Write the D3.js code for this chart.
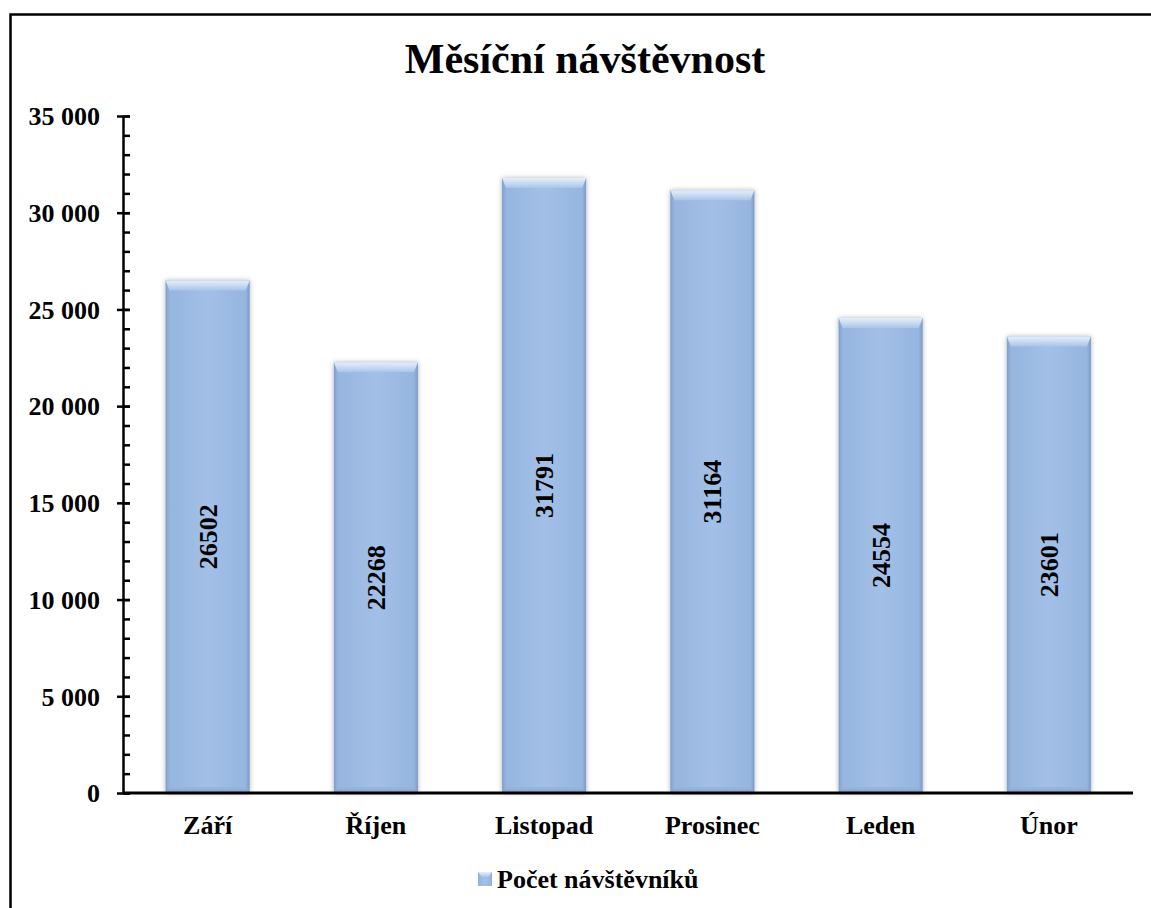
<!DOCTYPE html>
<html>
<head>
<meta charset="utf-8">
<script src="https://cdn.jsdelivr.net/npm/d3@7"></script>
<style>
  html, body { margin: 0; padding: 0; background: #fff; }
  svg { display: block; }
  text { font-family: "Liberation Serif", "Times New Roman", serif; font-weight: bold; fill: #000; }
</style>
</head>
<body>
<svg id="chart" width="1151" height="908"></svg>
<script>
// Monthly visitor counts
const months = ["Září", "Říjen", "Listopad", "Prosinec", "Leden", "Únor"];
const visitors = [26502, 22268, 31791, 31164, 24554, 23601];
const yTickValues = [0, 5000, 10000, 15000, 20000, 25000, 30000, 35000];
const yTickLabels = ["0", "5 000", "10 000", "15 000", "20 000", "25 000", "30 000", "35 000"];
const seriesName = "Počet návštěvníků";
const chartTitle = "Měsíční návštěvnost";

const svg = d3.select("#chart");
const W = 1151, H = 908;
const plot = { left: 123.5, right: 1133, top: 116, bottom: 793 };

const defs = svg.append("defs");

// horizontal shading across each bar
const body = defs.append("linearGradient").attr("id", "barBody").attr("x1", 0).attr("x2", 1).attr("y1", 0).attr("y2", 0);
[[0, "#7f9fcc"], [0.05, "#96b5df"], [0.5, "#a2c0e7"], [0.95, "#96b5df"], [1, "#7b9bc8"]]
  .forEach(([o, c]) => body.append("stop").attr("offset", o).attr("stop-color", c));

// bright bevel along the top edge
const bevelTop = defs.append("linearGradient").attr("id", "bevelTop").attr("x1", 0).attr("x2", 0).attr("y1", 0).attr("y2", 1);
[[0, "#e4eefa"], [0.5, "#c9dbf2"], [1, "#a9c4e8"]]
  .forEach(([o, c]) => bevelTop.append("stop").attr("offset", o).attr("stop-color", c));

const bevelBottom = defs.append("linearGradient").attr("id", "bevelBottom").attr("x1", 0).attr("x2", 0).attr("y1", 0).attr("y2", 1);
[[0, "#98b5dc"], [1, "#7e9dc8"]]
  .forEach(([o, c]) => bevelBottom.append("stop").attr("offset", o).attr("stop-color", c));

const shadow = defs.append("filter").attr("id", "glow").attr("x", "-20%").attr("y", "-5%").attr("width", "140%").attr("height", "110%");
shadow.append("feDropShadow").attr("dx", 0).attr("dy", 0).attr("stdDeviation", 2.5)
  .attr("flood-color", "#000").attr("flood-opacity", 0.3);

// outer frame (open on the right and bottom)
svg.append("path")
  .attr("d", `M10.5,${H} L10.5,14.5 L${W + 5},14.5`)
  .attr("fill", "none").attr("stroke", "#000").attr("stroke-width", 2.5);

// title
svg.append("text")
  .attr("x", 585).attr("y", 73)
  .attr("text-anchor", "middle")
  .style("font-size", "42px")
  .text(chartTitle);

const x = d3.scaleBand().domain(months).range([plot.left, plot.right]).paddingInner(0.5).paddingOuter(0.25);
const y = d3.scaleLinear().domain([0, 35000]).range([plot.bottom, plot.top]);

// bars
const bw = x.bandwidth();
const bevel = 10, side = 4;
const bars = svg.append("g").selectAll("g").data(months).join("g")
  .attr("transform", d => `translate(${x(d)},0)`);

bars.each(function (d, i) {
  const g = d3.select(this);
  const top = y(visitors[i]);
  const bottom = y(0);
  g.append("rect").attr("x", 0).attr("y", top).attr("width", bw).attr("height", bottom - top)
    .attr("fill", "url(#barBody)").attr("filter", "url(#glow)");
  g.append("path")
    .attr("d", `M0,${top} L${bw},${top} L${bw - side},${top + bevel} L${side},${top + bevel} Z`)
    .attr("fill", "url(#bevelTop)");
  g.append("path")
    .attr("d", `M0,${bottom} L${bw},${bottom} L${bw - side},${bottom - 6} L${side},${bottom - 6} Z`)
    .attr("fill", "url(#bevelBottom)").attr("opacity", 0.7);
});

// value labels, rotated inside each bar
svg.append("g").selectAll("text").data(months).join("text")
  .attr("transform", (d, i) => `translate(${x(d) + bw / 2 + 9},${(y(visitors[i]) + y(0)) / 2}) rotate(-90)`)
  .attr("text-anchor", "middle")
  .style("font-size", "26px")
  .text((d, i) => visitors[i]);

// y axis: minor ticks every 1000
const minor = d3.range(0, 35001, 1000);
svg.append("g").attr("transform", `translate(${plot.left},0)`)
  .call(d3.axisRight(y).tickValues(minor).tickSize(6.5).tickFormat(""))
  .call(g => g.select(".domain").remove())
  .call(g => g.selectAll("line").attr("stroke", "#000").attr("stroke-width", 2.5));

// y axis: major ticks crossing the axis line
const yAxis = svg.append("g").attr("transform", `translate(${plot.left},0)`)
  .call(d3.axisLeft(y).tickValues(yTickValues).tickSize(6.5).tickPadding(17)
    .tickFormat((d, i) => yTickLabels[i]));
yAxis.select(".domain").attr("d", `M0,${plot.top}V${plot.bottom}`).attr("stroke", "#000").attr("stroke-width", 2.5);
yAxis.selectAll(".tick line").attr("x1", 6.5).attr("stroke", "#000").attr("stroke-width", 2.5);
yAxis.selectAll(".tick text").style("font-size", "26px").attr("dy", "0.34em");
yAxis.attr("font-family", null).attr("font-size", null);

// x axis
const xAxis = svg.append("g").attr("transform", `translate(0,${plot.bottom})`)
  .call(d3.axisBottom(x).tickSize(0).tickPadding(23));
xAxis.select(".domain").attr("d", `M${plot.left},0H${plot.right}`).attr("stroke", "#000").attr("stroke-width", 3);
xAxis.selectAll(".tick text").style("font-size", "26px").attr("dy", "0.71em");
xAxis.attr("font-family", null).attr("font-size", null);

// legend
const legend = svg.append("g").attr("transform", "translate(478,872)");
legend.append("rect").attr("width", 14).attr("height", 14).attr("fill", "url(#barBody)");
legend.append("path").attr("d", "M0,0 L14,0 L10,5 L4,5 Z").attr("fill", "url(#bevelTop)");
legend.append("text").attr("x", 19).attr("y", 16).style("font-size", "26px").text(seriesName);
</script>
</body>
</html>
